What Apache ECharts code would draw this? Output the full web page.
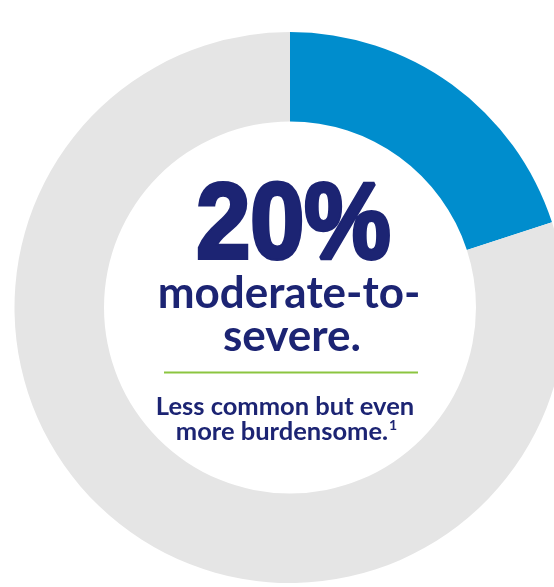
<!DOCTYPE html>
<html>
<head>
<meta charset="utf-8">
<script src="https://cdn.jsdelivr.net/npm/echarts@6/dist/echarts.min.js"></script>
<style>
html,body{margin:0;padding:0;background:#fff;}
#chart{width:554px;height:587px;}
</style>
</head>
<body>
<div id="chart"></div>
<script>
const categories = ['Moderate-to-severe', 'Other'];
const values = [20, 80];
const sliceColors = ['#008DCD', '#E5E5E5'];
const headline = '20%';
const subLines = ['moderate-to-', 'severe.'];
const noteLines = ['Less common but even', 'more burdensome.'];
const footnoteMark = '1';

const navy = '#1C2473';
const chart = echarts.init(document.getElementById('chart'), null, {renderer: 'canvas'});

const option = {
  animation: false,
  backgroundColor: '#ffffff',
  series: [{
    type: 'pie',
    center: [290, 307.5],
    radius: [186, 275.5],
    startAngle: 90,
    clockwise: true,
    silent: true,
    label: {show: false},
    labelLine: {show: false},
    emphasis: {disabled: true},
    data: categories.map((c, i) => ({name: c, value: values[i], itemStyle: {color: sliceColors[i]}}))
  }],
  graphic: [
    {
      type: 'text', x: 293.5, y: 228, scaleX: 0.90, silent: true,
      style: {
        text: headline, font: 'bold 108px "Liberation Sans"', fill: navy,
        stroke: navy, lineWidth: 4, align: 'center', verticalAlign: 'middle'
      }
    },
    {
      type: 'text', x: 289, y: 294, silent: true,
      style: {text: subLines[0], font: 'bold 44px Lato', fill: navy, align: 'center', verticalAlign: 'middle'}
    },
    {
      type: 'text', x: 292, y: 337, silent: true,
      style: {text: subLines[1], font: 'bold 44px Lato', fill: navy, align: 'center', verticalAlign: 'middle'}
    },
    {
      type: 'line', silent: true,
      shape: {x1: 164, y1: 372.5, x2: 418, y2: 372.5},
      style: {stroke: '#8CC540', lineWidth: 2}
    },
    {
      type: 'text', x: 285, y: 407, silent: true,
      style: {text: noteLines[0], font: 'bold 25.5px Lato', fill: navy, align: 'center', verticalAlign: 'middle'}
    },
    {
      type: 'text', x: 286.5, y: 431.5, silent: true,
      style: {
        text: noteLines[1] + '{sup|' + footnoteMark + '}', font: 'bold 25.5px Lato', fill: navy,
        align: 'center', verticalAlign: 'middle',
        rich: {sup: {font: 'bold 14px Lato', fill: navy, verticalAlign: 'top', padding: [0, 0, 11, 1]}}
      }
    }
  ]
};
chart.setOption(option);
</script>
</body>
</html>
